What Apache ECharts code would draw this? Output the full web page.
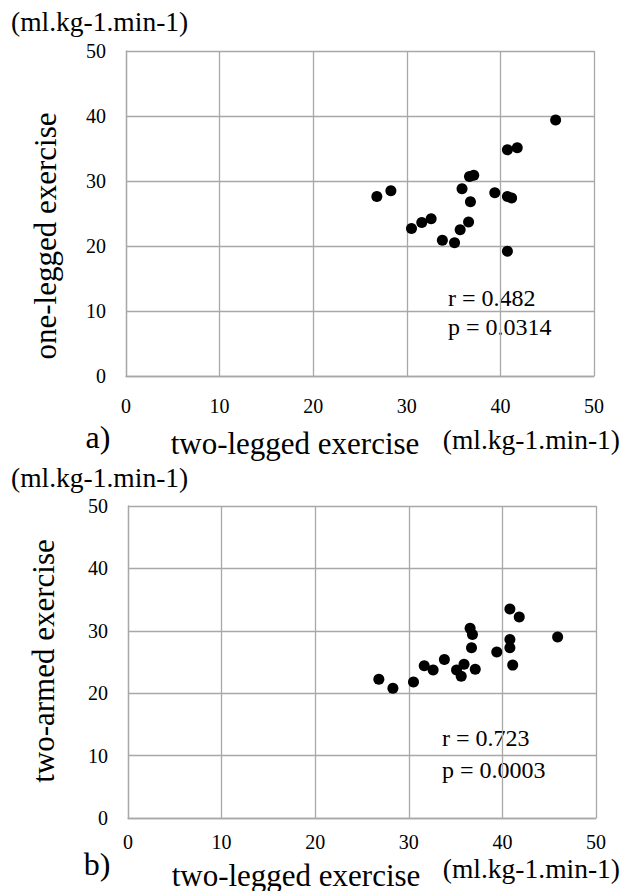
<!DOCTYPE html>
<html>
<head>
<meta charset="utf-8">
<script src="https://cdn.jsdelivr.net/npm/echarts@6/dist/echarts.min.js"></script>
<style>
    html, body { margin: 0; padding: 0; background: #fff; }
    #main { width: 629px; height: 891px; }
</style>
</head>
<body>
<div id="main"></div>
<script>
// a) two-legged vs one-legged exercise
var twoLeggedA = [45.9, 40.75, 41.8, 36.7, 37.15, 35.9, 26.8, 28.3, 39.4, 40.75, 41.2, 36.8, 30.5, 31.6, 32.6, 36.6, 35.7, 33.8, 35.1, 40.75];
var oneLegged = [39.4, 34.8, 35.1, 30.7, 30.9, 28.8, 27.6, 28.5, 28.2, 27.6, 27.4, 26.8, 22.7, 23.6, 24.2, 23.7, 22.5, 20.9, 20.5, 19.2];

// b) two-legged vs two-armed exercise
var twoLeggedB = [40.8, 41.8, 36.55, 36.8, 45.9, 40.8, 40.8, 36.7, 39.4, 33.8, 31.65, 32.6, 35.9, 35.1, 35.6, 37.1, 41.1, 26.8, 28.3, 30.5];
var twoArmed = [33.5, 32.2, 30.4, 29.4, 29.0, 28.6, 27.3, 27.3, 26.6, 25.4, 24.4, 23.7, 24.65, 23.7, 22.7, 23.85, 24.5, 22.25, 20.8, 21.8];

var statsA = ['r = 0.482', 'p = 0.0314'];
var statsB = ['r = 0.723', 'p = 0.0003'];
var unitText = '(ml.kg-1.min-1)';

var font = "'Liberation Serif', 'Times New Roman', serif";
var gridColor = '#a8a8a8';

function pairs(xs, ys) {
    var out = [];
    for (var i = 0; i < xs.length; i++) {
        out.push([xs[i], ys[i]]);
    }
    return out;
}

function valueAxis(idx, margin) {
    return {
        type: 'value',
        gridIndex: idx,
        min: 0,
        max: 50,
        interval: 10,
        axisLine: { show: true, lineStyle: { color: gridColor, width: 1.3 } },
        axisTick: { show: false },
        axisLabel: {
            margin: margin,
            fontFamily: font,
            fontSize: 20,
            color: '#000'
        },
        splitLine: { show: true, lineStyle: { color: gridColor, width: 1.3 } }
    };
}

function label(text, x, y, size, align, rot) {
    return {
        type: 'text',
        x: x,
        y: y,
        rotation: rot || 0,
        style: {
            text: text,
            fontFamily: font,
            fontSize: size,
            fill: '#000',
            align: align || 'center',
            verticalAlign: 'middle'
        }
    };
}

var chart = echarts.init(document.getElementById('main'), null, { renderer: 'svg' });

var option = {
    animation: false,
    backgroundColor: '#fff',
    grid: [
        { left: 126, top: 51, width: 468, height: 325 },
        { left: 128, top: 506, width: 468, height: 312 }
    ],
    xAxis: [valueAxis(0, 20), valueAxis(1, 14)],
    yAxis: [valueAxis(0, 20), valueAxis(1, 20)],
    series: [
        {
            type: 'scatter',
            xAxisIndex: 0,
            yAxisIndex: 0,
            symbolSize: 11,
            itemStyle: { color: '#000', opacity: 1 },
            data: pairs(twoLeggedA, oneLegged)
        },
        {
            type: 'scatter',
            xAxisIndex: 1,
            yAxisIndex: 1,
            symbolSize: 11,
            itemStyle: { color: '#000', opacity: 1 },
            data: pairs(twoLeggedB, twoArmed)
        }
    ],
    graphic: [
        // a)
        label(unitText, 11, 21, 27.5, 'left'),
        label('one-legged exercise', 45, 236, 31, 'center', Math.PI / 2),
        label('a)', 98, 437, 32),
        label('two-legged exercise', 295, 443, 31),
        label(unitText, 620, 439, 27.5, 'right'),
        label(statsA[0], 448, 298, 24, 'left'),
        label(statsA[1], 448, 327, 24, 'left'),
        // b)
        label(unitText, 11, 477, 27.5, 'left'),
        label('two-armed exercise', 43, 661, 31, 'center', Math.PI / 2),
        label('b)', 97, 864, 32),
        label('two-legged exercise', 296, 875, 31),
        label(unitText, 620, 868, 27.5, 'right'),
        label(statsB[0], 442, 738, 24, 'left'),
        label(statsB[1], 442, 770, 24, 'left')
    ]
};

chart.setOption(option);
</script>
</body>
</html>
